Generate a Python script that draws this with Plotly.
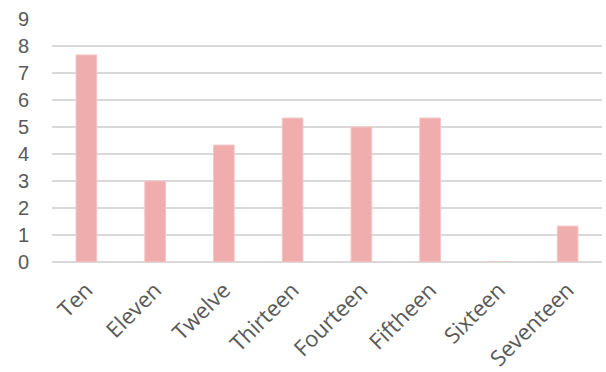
import plotly.graph_objects as go

categories = ["Ten", "Eleven", "Twelve", "Thirteen", "Fourteen", "Fiftheen", "Sixteen", "Seventeen"]
values = [7.67, 3, 4.33, 5.33, 5, 5.33, 0, 1.33]
y_ticks = list(range(0, 10))

fig = go.Figure(
    go.Bar(
        x=categories,
        y=values,
        width=0.3,
        marker=dict(color="#F0ADAD", line=dict(color="#F6C4C4", width=1)),
    )
)

fig.update_layout(
    width=606,
    height=372,
    margin=dict(l=52, r=4, t=19, b=110),
    paper_bgcolor="white",
    plot_bgcolor="white",
    showlegend=False,
    bargap=0.7,
)

fig.update_xaxes(
    automargin=False,
    tickangle=-45,
    tickfont=dict(family="Open Sans", size=22, color="#595959"),
    showgrid=False,
    showline=False,
    ticks="",
    ticklabelstandoff=10,
)

fig.update_yaxes(
    automargin=False,
    range=[0, 9],
    tickvals=y_ticks,
    tickfont=dict(family="Liberation Sans", size=20, color="#595959"),
    showgrid=True,
    gridcolor="#D9D9D9",
    gridwidth=1.5,
    zeroline=True,
    zerolinecolor="#D9D9D9",
    zerolinewidth=1.5,
    ticklabelstandoff=22,
)

fig.write_html("out.html")
